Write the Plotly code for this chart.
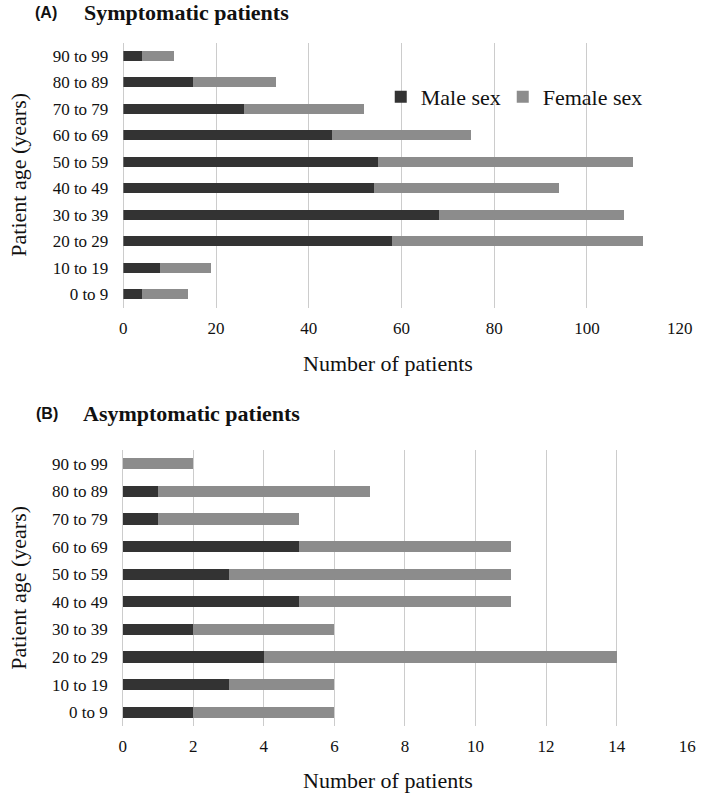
import plotly.graph_objects as go

W, H = 709, 794

age_groups = ["0 to 9", "10 to 19", "20 to 29", "30 to 39", "40 to 49",
              "50 to 59", "60 to 69", "70 to 79", "80 to 89", "90 to 99"]

# (A) Symptomatic patients
symp_male = [4, 8, 58, 68, 54, 55, 45, 26, 15, 4]
symp_female = [10, 11, 54, 40, 40, 55, 30, 26, 18, 7]

# (B) Asymptomatic patients
asymp_male = [2, 3, 4, 2, 5, 3, 5, 1, 1, 0]
asymp_female = [4, 3, 10, 4, 6, 8, 6, 4, 6, 2]

symp_ticks = [0, 20, 40, 60, 80, 100, 120]
asymp_ticks = [0, 2, 4, 6, 8, 10, 12, 14, 16]

MALE_C = "#333333"
FEMALE_C = "#8c8c8c"
GRID_C = "#cccccc"
SERIF = "Liberation Serif, Times New Roman, serif"
SANS = "Liberation Sans, Arial, sans-serif"
TXT = "#111111"


def px(x):
    return x / W


def py(y):
    return 1 - y / H


fig = go.Figure()
fig.add_trace(go.Bar(y=age_groups, x=symp_male, orientation="h", name="Male sex",
                     width=0.38, marker=dict(color=MALE_C, line=dict(width=0)),
                     xaxis="x", yaxis="y", legend="legend"))
fig.add_trace(go.Bar(y=age_groups, x=symp_female, orientation="h", name="Female sex",
                     width=0.38, marker=dict(color=FEMALE_C, line=dict(width=0)),
                     xaxis="x", yaxis="y", legend="legend2"))
fig.add_trace(go.Bar(y=age_groups, x=asymp_male, orientation="h", name="Male sex",
                     width=0.40, marker=dict(color=MALE_C, line=dict(width=0)),
                     xaxis="x2", yaxis="y2", showlegend=False))
fig.add_trace(go.Bar(y=age_groups, x=asymp_female, orientation="h", name="Female sex",
                     width=0.40, marker=dict(color=FEMALE_C, line=dict(width=0)),
                     xaxis="x2", yaxis="y2", showlegend=False))

xcommon = dict(showgrid=True, gridcolor=GRID_C, gridwidth=1, zeroline=True,
               zerolinecolor=GRID_C, zerolinewidth=1, showline=False, ticks="",
               tickfont=dict(family=SERIF, size=17, color=TXT), fixedrange=True,
               ticklabelstandoff=8)
ycommon = dict(type="category", categoryorder="array", categoryarray=age_groups,
               showgrid=False, zeroline=False, showline=False, ticks="",
               tickfont=dict(family=SERIF, size=17, color=TXT),
               ticklabelstandoff=14, fixedrange=True)

legend_common = dict(orientation="h", y=py(97), xanchor="left", yanchor="middle",
                     bgcolor="rgba(0,0,0,0)", font=dict(family=SERIF, size=22, color=TXT),
                     itemclick=False, itemdoubleclick=False)

fig.update_layout(
    width=W, height=H,
    margin=dict(l=0, r=0, t=0, b=0),
    paper_bgcolor="white", plot_bgcolor="white",
    barmode="stack",
    xaxis=dict(domain=[px(122.3), px(692.3)], range=[0, 120], tickvals=symp_ticks,
               anchor="y", **xcommon),
    yaxis=dict(domain=[py(307.5), py(42.5)], anchor="x", **ycommon),
    xaxis2=dict(domain=[px(121.6), px(700)], range=[0, 16], tickvals=asymp_ticks,
                anchor="y2", **xcommon),
    yaxis2=dict(domain=[py(726), py(450)], anchor="x2", **ycommon),
    legend=dict(x=px(386), **legend_common),
    legend2=dict(x=px(511), **legend_common),
    showlegend=True,
)

ann = []
# Panel titles
ann.append(dict(text="<b>(A)</b>", x=px(30), y=py(12), xref="paper", yref="paper",
                xanchor="left", yanchor="middle", showarrow=False,
                font=dict(family=SANS, size=16, color=TXT)))
ann.append(dict(text="<b>Symptomatic patients</b>", x=px(80), y=py(12), xref="paper", yref="paper",
                xanchor="left", yanchor="middle", showarrow=False,
                font=dict(family=SERIF, size=22, color=TXT)))
ann.append(dict(text="<b>(B)</b>", x=px(31), y=py(413), xref="paper", yref="paper",
                xanchor="left", yanchor="middle", showarrow=False,
                font=dict(family=SANS, size=16, color=TXT)))
ann.append(dict(text="<b>Asymptomatic patients</b>", x=px(79), y=py(413), xref="paper", yref="paper",
                xanchor="left", yanchor="middle", showarrow=False,
                font=dict(family=SERIF, size=22, color=TXT)))
# Axis titles
for yy in (364, 780):
    ann.append(dict(text="Number of patients", x=px(393), y=py(yy), xref="paper", yref="paper",
                    xanchor="center", yanchor="middle", showarrow=False,
                    font=dict(family=SERIF, size=22, color=TXT)))
for yy in (175, 588):
    ann.append(dict(text="Patient age (years)", x=px(14), y=py(yy), xref="paper", yref="paper",
                    xanchor="center", yanchor="middle", showarrow=False, textangle=-90,
                    font=dict(family=SERIF, size=22, color=TXT)))
fig.update_layout(annotations=ann)

fig.write_html("out.html", config={"displayModeBar": False},
               post_script="document.body.style.margin='0';document.body.style.overflow='hidden';")
